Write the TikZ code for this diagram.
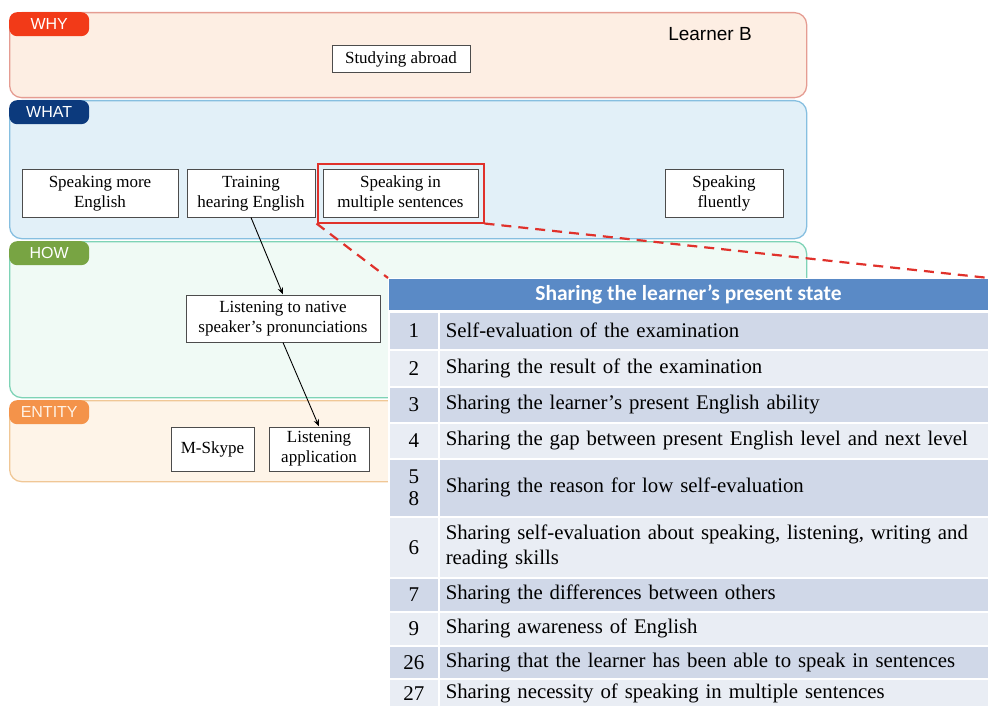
\documentclass[tikz,border=0pt]{standalone}
\usepackage{fontspec}
\setmainfont{Liberation Serif}
\newfontfamily\tagfont{Liberation Sans}
\newfontfamily\hdrfont{Carlito}
\usetikzlibrary{fit,arrows.meta}

\definecolor{whyfill}{HTML}{FDEEE3}
\definecolor{whyline}{HTML}{E59C92}
\definecolor{whyred}{HTML}{F23A18}
\definecolor{whatfill}{HTML}{E2F0F8}
\definecolor{whatline}{HTML}{86BFE0}
\definecolor{whatblue}{HTML}{0C3A7D}
\definecolor{howfill}{HTML}{F0FAF5}
\definecolor{howline}{HTML}{7ED3B6}
\definecolor{howgreen}{HTML}{78A443}
\definecolor{entfill}{HTML}{FEF4E8}
\definecolor{entline}{HTML}{F0C796}
\definecolor{entorange}{HTML}{F4934A}
\definecolor{hdrblue}{HTML}{5A8AC6}
\definecolor{rowdark}{HTML}{D0D8E8}
\definecolor{rowlight}{HTML}{E9EDF4}
\definecolor{hlred}{HTML}{E0312B}

\begin{document}
\begin{tikzpicture}[x=1pt,y=-1pt,>={Stealth[length=7pt,width=5.5pt]},
        band/.style={draw,line width=1.3pt,rounded corners=12pt,anchor=north west,minimum width=797pt,inner sep=0pt},
        tagbox/.style={rounded corners=8pt,anchor=north west,minimum width=80pt,minimum height=24pt,inner sep=0pt,text=white,font=\tagfont\fontsize{16}{18}\selectfont},
        item/.style={draw=black!70,fill=white,line width=1pt,align=center,inner sep=0pt,font=\fontsize{17}{20}\selectfont},
        hlbox/.style={draw=hlred,line width=2pt,inner sep=5pt},
        numcell/.style={draw=white,line width=1.5pt,anchor=north west,minimum width=50pt,inner sep=0pt,align=center,font=\fontsize{21}{22}\selectfont},
        txtcell/.style={draw=white,line width=1.5pt,anchor=north west,text width=536pt,inner xsep=7pt,inner ysep=0pt,align=left,font=\fontsize{20.8}{25}\selectfont}]
        \useasboundingbox (0,0) rectangle (988,706);

        % Layer bands
        \node[band,draw=whyline,fill=whyfill,minimum height=85pt] (why) at (9,12) {};
        \node[band,draw=whatline,fill=whatfill,minimum height=138pt] (what) at (9,100) {};
        \node[band,draw=howline,fill=howfill,minimum height=156pt] (how) at (9,241) {};
        \node[band,draw=entline,fill=entfill,minimum height=81pt] (entity) at (9,400) {};

        % Band tags (top left)
        \node[tagbox,fill=whyred] (tagwhy) at (why.north west) {WHY};
        \node[tagbox,fill=whatblue] (tagwhat) at (what.north west) {WHAT};
        \node[tagbox,fill=howgreen] (taghow) at (how.north west) {HOW};
        \node[tagbox,fill=entorange,text=white!90!orange] (tagentity) at (entity.north west) {ENTITY};

        \node[font=\tagfont\fontsize{19}{22}\selectfont] (learner) at (710,34) {Learner B};

        % Goals, actions and entities
        \node[item,minimum width=138pt,minimum height=27pt] (abroad) at (401,59) {Studying abroad};
        \node[item,minimum width=156pt,minimum height=47pt] (spkmore) at (100,193.5) {Speaking more\\English};
        \node[item,minimum width=128pt,minimum height=47pt] (training) at (251,193.5) {Training\\hearing English};
        \node[item,minimum width=155pt,minimum height=47pt] (spkmulti) at (400.5,193.5) {Speaking in\\multiple sentences};
        \node[item,minimum width=118pt,minimum height=47pt] (fluent) at (724,193.5) {Speaking\\fluently};
        \node[hlbox,fit=(spkmulti)] (focus) {};
        \node[item,minimum width=194pt,minimum height=47pt] (native) at (283,318.5) {Listening to native\\speaker’s pronunciations};
        \node[item,minimum width=83pt,minimum height=44pt] (mskype) at (212.5,449) {M-Skype};
        \node[item,minimum width=100pt,minimum height=44pt] (listapp) at (319,449) {Listening\\application};

        % Links
        \draw[->,line width=0.9pt] (training.south) -- (native.north);
        \draw[->,line width=0.9pt] (native.south) -- (listapp.north);

        % Table of shared states
        \node[fill=hdrblue,draw=white,line width=1pt,anchor=north west,minimum width=600pt,minimum height=32pt,text=white,font=\hdrfont\bfseries\fontsize{21.5}{24}\selectfont] (hdr) at (388,278) {Sharing the learner’s present state};
        \foreach \k/\ya/\h/\shade/\num/\txt in {
            1/311/38/rowdark/1/{Self-evaluation of the examination},
            2/349/37/rowlight/2/{Sharing the result of the examination},
            3/386/36/rowdark/3/{Sharing the learner’s present English ability},
            4/422/36/rowlight/4/{Sharing the gap between present English level and next level},
            5/458/58/rowdark/{5\\8}/{Sharing the reason for low self-evaluation},
            6/516/61/rowlight/6/{Sharing self-evaluation about speaking, listening, writing and\\reading skills},
            7/577/34/rowdark/7/{Sharing the differences between others},
            8/611/34/rowlight/9/{Sharing awareness of English},
            9/645/33/rowdark/26/{Sharing that the learner has been able to speak in sentences},
            10/678/30/rowlight/27/{Sharing necessity of speaking in multiple sentences}} {
            \node[numcell,fill=\shade,minimum height=\h pt] (num\k) at (388,\ya) {\num};
            \node[txtcell,fill=\shade,minimum height=\h pt] (row\k) at (438,\ya) {\txt};
        }

        % Zoom lines (dashed red)
        \draw[hlred,line width=2.2pt,dash pattern=on 10pt off 7pt] (focus.south west) -- (hdr.north west);
        \draw[hlred,line width=2.2pt,dash pattern=on 10pt off 7pt] (focus.south east) -- (hdr.north east);

    \end{tikzpicture}
\end{document}
